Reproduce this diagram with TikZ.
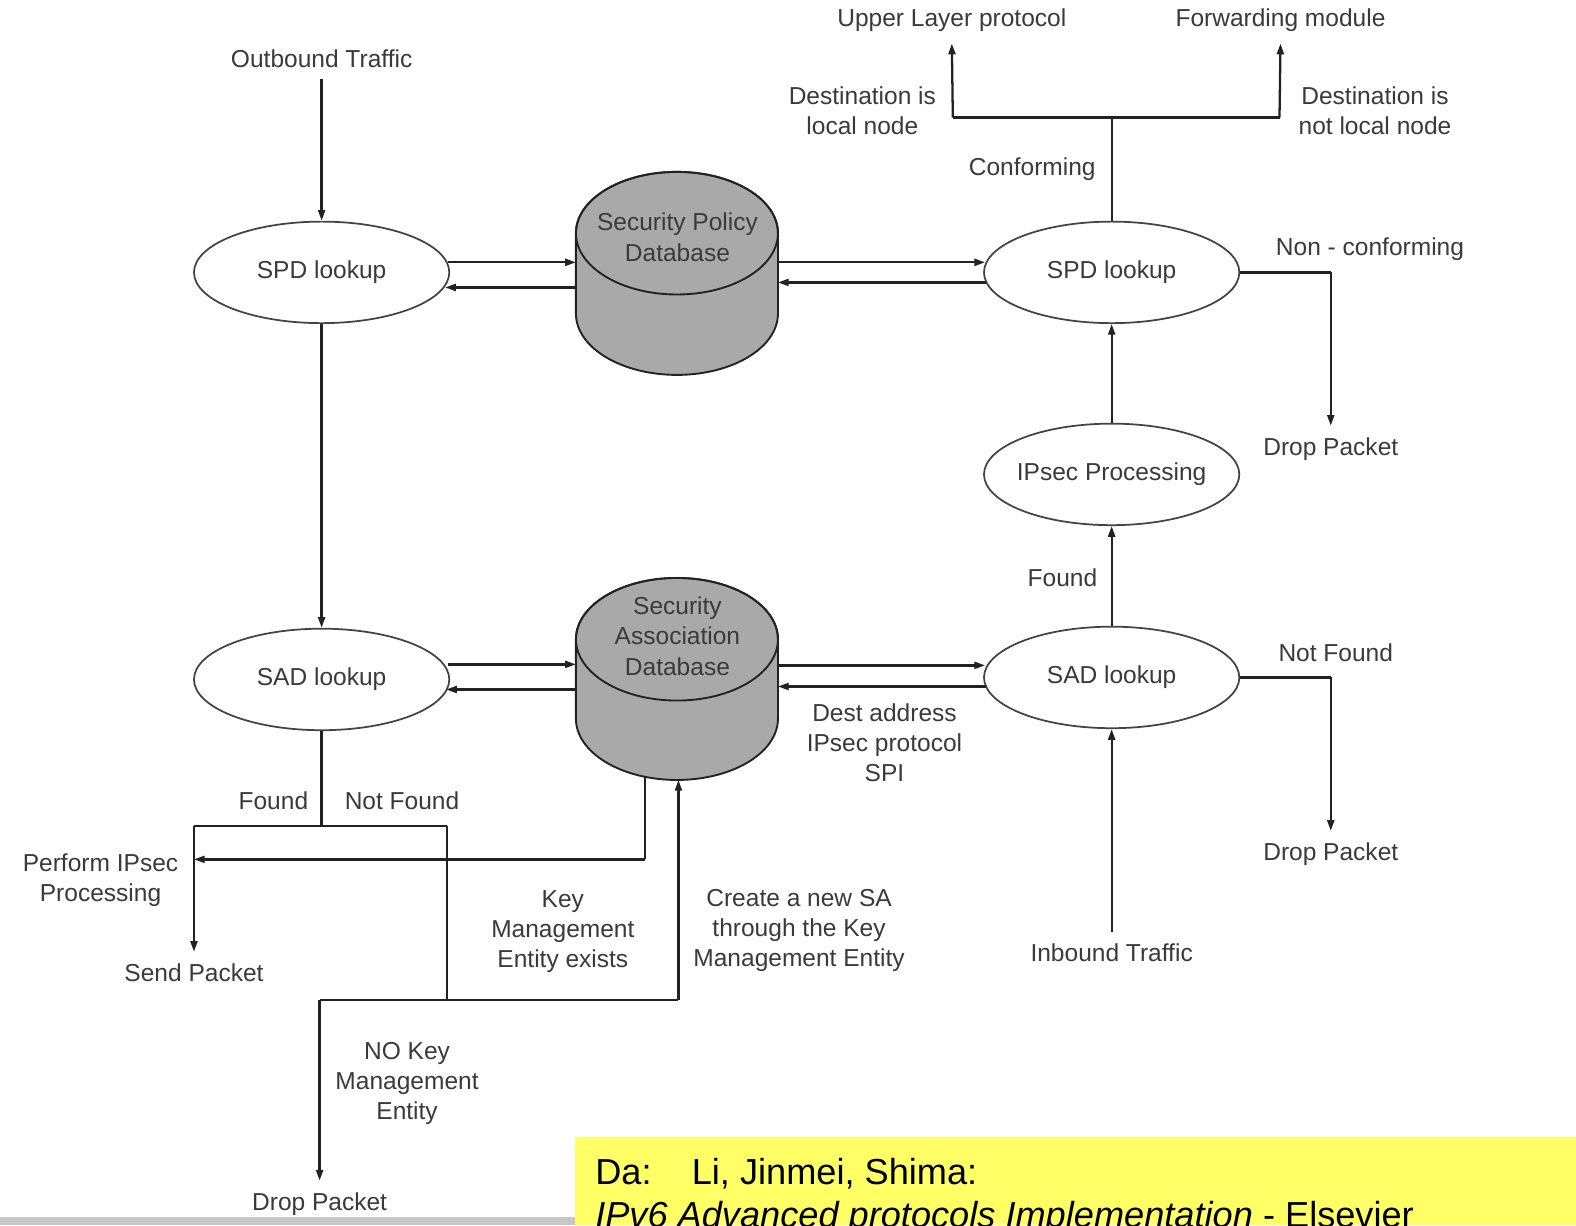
\documentclass[tikz,border=0pt]{standalone}
\usepackage{fontspec}
\setmainfont{Liberation Sans}
\usetikzlibrary{shapes.geometric,arrows.meta,calc}
\definecolor{txt}{HTML}{3A3A3A}
\definecolor{ln}{HTML}{222222}
\definecolor{dbfill}{HTML}{A9A9A9}
\definecolor{yel}{HTML}{FFFF66}
\begin{document}
\begin{tikzpicture}[x=0.75pt,y=-0.75pt,
  lbl/.style={font=\fontsize{18.3}{22.5}\selectfont, text=txt, align=center, inner sep=1pt},
  term/.style={lbl, outer sep=8pt},
  ell/.style={ellipse, draw=ln!85, line width=1.3pt, minimum width=190.5pt, minimum height=75.75pt,
    inner sep=0pt, font=\fontsize{18.3}{22.5}\selectfont, text=txt},
  conn/.style={draw=ln, line width=1.7pt},
  arr/.style={conn, -{Triangle[length=8pt,width=5.2pt]}},
  dbbody/.style={fill=dbfill, draw=ln, line width=1.4pt},
]
\useasboundingbox (0,0) rectangle (1568,1219);
\fill[white] (0,0) rectangle (1568,1219);
\fill[black!22] (0,1211) rectangle (572,1219);

% ---------- databases (cylinders) ----------
\filldraw[dbbody] (573,232) -- (573,312) arc[start angle=180,end angle=0,x radius=100.5,y radius=61]
  -- (774,232) arc[start angle=0,end angle=-180,x radius=100.5,y radius=61] -- cycle;
\draw[ln, line width=1.4pt] (673.5,232) ellipse [x radius=100.5, y radius=61];
\node[lbl] (spdDB) at (674,236) {Security Policy\\Database};
\coordinate (spdDBL) at (573,272);
\coordinate (spdDBR) at (774,272);

\filldraw[dbbody] (573,636) -- (573,715) arc[start angle=180,end angle=0,x radius=100.5,y radius=61]
  -- (774,636) arc[start angle=0,end angle=-180,x radius=100.5,y radius=61] -- cycle;
\draw[ln, line width=1.4pt] (673.5,636) ellipse [x radius=100.5, y radius=61];
\node[lbl] (sadDB) at (674,633) {Security\\Association\\Database};
\coordinate (sadDBL) at (573,673);
\coordinate (sadDBR) at (774,673);
\coordinate (sadDBb1) at (642,773);
\coordinate (sadDBb2) at (675,776);

% ---------- process ellipses ----------
\node[ell] (spdL) at (320,271) {SPD lookup};
\node[ell] (sadL) at (320,676) {SAD lookup};
\node[ell] (spdR) at (1106,271) {SPD lookup};
\node[ell, inner xsep=-7pt] (ipsec) at (1106,472) {IPsec Processing};
\node[ell] (sadR) at (1106,674) {SAD lookup};

% ---------- terminal labels ----------
\node[term] (outT) at (320,58) {Outbound Traffic};
\node[term] (inT) at (1106,948) {Inbound Traffic};
\node[term] (upper) at (947,20) {Upper Layer protocol};
\node[term] (fwd) at (1274,20) {Forwarding module};
\node[term] (drop1) at (1324,447) {Drop Packet};
\node[term] (drop2) at (1324,850) {Drop Packet};
\node[term] (drop3) at (318,1198) {Drop Packet};
\node[term] (send) at (193,968) {Send Packet};

% ---------- other labels ----------
\node[lbl] (dloc) at (858,110) {Destination is\\local node};
\node[lbl] (dnloc) at (1368,110) {Destination is\\not local node};
\node[lbl] (conf) at (1027,168) {Conforming};
\node[lbl] (nconf) at (1363,248) {Non - conforming};
\node[lbl] (foundR) at (1057,575) {Found};
\node[lbl] (nfoundR) at (1329,649) {Not Found};
\node[lbl] (dest) at (880,739) {Dest address\\IPsec protocol\\SPI};
\node[lbl] (foundL) at (272,797) {Found};
\node[lbl] (nfoundL) at (400,797) {Not Found};
\node[lbl] (perf) at (100,876) {Perform IPsec\\Processing};
\node[lbl] (kme) at (560,927) {Key\\Management\\Entity exists};
\node[lbl] (cnew) at (795,926) {Create a new SA\\through the Key\\Management Entity};
\node[lbl] (nokme) at (405,1078) {NO Key\\Management\\Entity};

% ---------- junction coordinates ----------
\coordinate (jTop) at (1106,117);
\coordinate (jTopL) at (948,117);
\coordinate (jTopR) at (1273,117);
\coordinate (jNC) at (1324,271);
\coordinate (jNF) at (1324,674);
\coordinate (jL) at (320,822);
\coordinate (jLa) at (193,822);
\coordinate (jLb) at (445,822);
\coordinate (jK) at (445,995);
\coordinate (jKa) at (318,995);
\coordinate (jKb) at (675,995);
\coordinate (jP) at (642,855);
\coordinate (jPend) at (193,855);

% ---------- outbound side ----------
\draw[arr] (outT.south) -- (spdL.north);
\draw[arr] ($(spdL.east)+(-2,-10)$) -- ($(spdDBL)+(0,-11)$);
\draw[arr] ($(spdDBL)+(0,14)$) -- ($(spdL.east)+(-5,15)$);
\draw[arr] (spdL.south) -- (sadL.north);
\draw[arr] ($(sadL.east)+(-2,-15)$) -- ($(sadDBL)+(0,-12)$);
\draw[arr] ($(sadDBL)+(0,13)$) -- ($(sadL.east)+(-4,10)$);
\draw[conn] (sadL.south) -- (jL);
\draw[conn] (jLa) -- (jLb);
\draw[arr] (jLa) -- (send.north);
\draw[conn] (sadDBb1) -- (jP);
\draw[arr] (jP) -- (jPend);
\draw[conn] (jLb) -- (jK);
\draw[conn] (jKa) -- (jKb);
\draw[arr] (jKb) -- (sadDBb2);
\draw[arr] (jKa) -- (drop3.north);

% ---------- inbound side ----------
\draw[arr] (inT.north) -- (sadR.south);
\draw[arr] (sadR.north) -- (ipsec.south);
\draw[arr] (ipsec.north) -- (spdR.south);
\draw[arr] ($(sadDBR)+(0,-11)$) -- ($(sadR.west)+(2,-12)$);
\draw[arr] ($(sadR.west)+(3,9)$) -- ($(sadDBR)+(0,10)$);
\draw[arr] ($(spdDBR)+(0,-11)$) -- ($(spdR.west)+(2,-10)$);
\draw[arr] ($(spdR.west)+(3,10)$) -- ($(spdDBR)+(0,9)$);
\draw[conn] (spdR.north) -- (jTop);
\draw[conn] (jTopL) -- (jTopR);
\draw[arr] (jTopL) -- (upper.south);
\draw[arr] (jTopR) -- (fwd.south);
\draw[conn] (spdR.east) -- (jNC);
\draw[arr] (jNC) -- (drop1.north);
\draw[conn] (sadR.east) -- (jNF);
\draw[arr] (jNF) -- (drop2.north);

% ---------- citation box ----------
\begin{scope}
\clip (572,1131) rectangle (1568,1219);
\fill[yel] (572,1131) rectangle (1568,1219);
\node[anchor=base west, inner sep=0pt, font=\fontsize{27}{33}\selectfont, text=black] (cite1) at (592,1178)
  {Da:\hspace{30pt}Li, Jinmei, Shima:};
\node[anchor=base west, inner sep=0pt, font=\fontsize{27}{33}\selectfont, text=black] (cite2) at (592,1221)
  {\textit{IPv6 Advanced protocols Implementation} - Elsevier};
\end{scope}
\end{tikzpicture}
\end{document}
